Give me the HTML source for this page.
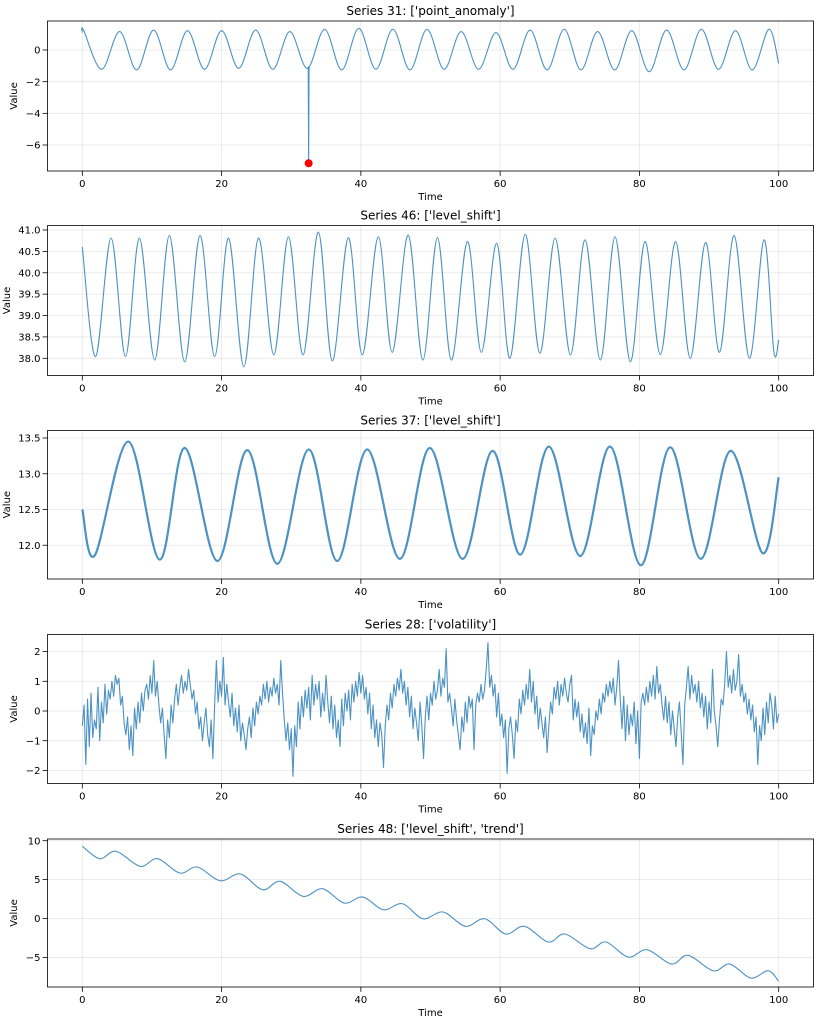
<!DOCTYPE html>
<html><head><meta charset="utf-8">
<style>
html,body{margin:0;padding:0;background:#fff;}
svg{display:block;font-family:"DejaVu Sans","Liberation Sans",sans-serif;}
</style></head>
<body>
<svg id="fig" width="819" height="1024" viewBox="0 0 819 1024" xmlns="http://www.w3.org/2000/svg"></svg>
<script>
// ---- Panel 1 data (Series 31) ----
const p1PeakTimes=[0.17,5.35,10.24,15.1,20.0,24.9,29.8,34.8,39.7,44.6,49.5,54.4,59.4,64.3,69.2,74.0,78.9,83.9,88.9,93.8,98.6];
const p1PeakValues=[1.26,1.16,1.26,1.22,1.22,1.26,1.16,1.31,1.37,1.31,1.31,1.16,1.10,1.26,1.31,1.16,1.22,1.26,1.31,1.22,1.31];
const p1TroughTimes=[2.76,7.8,12.67,17.55,22.45,27.35,32.3,37.25,42.15,47.05,51.95,56.9,61.85,66.75,71.6,76.45,81.4,86.4,91.35,96.2];
const p1TroughValues=[-1.22,-1.26,-1.26,-1.22,-1.16,-1.22,-1.16,-1.26,-1.22,-1.26,-1.22,-1.22,-1.22,-1.26,-1.26,-1.26,-1.37,-1.26,-1.22,-1.26];
const p1EndTimes=[0,100];
const p1EndValues=[1.1,-0.85];
const anomalyTimes=[32.5];
const anomalyValues=[-7.15];
const anomalyBase=[-1.05];
// ---- Panel 2 data (Series 46) ----
const p2PeakTimes=[4.13,8.2,12.5,16.9,21.0,25.3,29.6,33.9,38.2,42.5,46.8,51.0,55.3,59.5,63.6,67.9,72.2,76.5,80.8,85.2,89.5,93.6,97.9];
const p2PeakValues=[40.81,40.81,40.87,40.87,40.81,40.81,40.84,40.95,40.82,40.84,40.88,40.82,40.73,40.69,40.90,40.81,40.77,40.84,40.73,40.73,40.71,40.87,40.77];
const p2TroughTimes=[1.9,6.2,10.4,14.7,19.0,23.2,27.5,31.7,35.9,40.2,44.5,48.9,53.0,57.3,61.4,65.7,70.1,74.4,78.7,83.0,87.3,91.5,95.8,99.3];
const p2TroughValues=[38.04,38.04,37.96,37.92,38.04,37.80,38.08,38.08,37.94,38.08,38.14,37.96,37.96,38.14,38.0,38.12,38.08,37.96,37.92,38.09,38.0,38.14,38.0,38.16];
const p2EndTimes=[0,100];
const p2EndValues=[40.6,38.43];
// ---- Panel 3 data (Series 37) ----
const p3PeakTimes=[6.6,14.7,23.7,32.5,40.9,49.9,58.9,67.0,75.8,84.4,93.1];
const p3PeakValues=[13.45,13.36,13.33,13.34,13.34,13.36,13.32,13.38,13.38,13.37,13.32];
const p3TroughTimes=[1.8,11.1,19.4,28.0,36.6,45.6,54.6,62.9,71.5,80.2,88.8,97.7];
const p3TroughValues=[11.86,11.80,11.78,11.74,11.78,11.81,11.81,11.87,11.85,11.72,11.81,11.89];
const p3EndTimes=[0,100];
const p3EndValues=[12.5,12.95];
// ---- Panel 4 data (Series 28), sampled every 0.25 ----
const p4Values=[-0.5,0.2,-1.8,0.4,-1.2,0.6,-0.9,-0.3,-0.6,0.8,-1.0,0.3,-0.4,0.9,-0.1,0.7,0.4,1.0,0.5,1.2,0.9,1.1,0.2,0.5,-0.4,-0.8,-0.2,-1.3,-0.5,-1.5,0.1,-0.6,0.3,-0.4,0.6,0.0,0.7,0.9,0.4,1.2,0.6,1.7,0.5,1.0,0.2,-0.4,0.1,-0.8,-1.6,-0.3,-0.9,0.2,-0.4,0.4,0.9,0.2,0.8,1.2,0.6,1.0,0.7,1.4,0.9,0.4,0.7,-0.1,0.3,-0.6,-0.2,-1.0,-0.4,0.1,-0.8,-1.2,-0.3,-1.6,0.2,1.7,0.3,1.0,0.5,1.8,0.2,0.9,0.3,-0.2,0.6,-0.5,0.1,-0.7,0.2,-1.0,-0.4,-0.8,-1.3,-0.6,-0.2,-0.9,0.1,-0.5,0.3,-0.1,0.5,0.2,0.9,0.4,1.0,0.3,0.8,0.5,1.1,0.6,0.9,0.2,1.7,0.6,-0.3,-1.0,-0.4,-1.3,-0.6,-2.2,-0.5,-1.2,0.3,-0.6,0.5,-0.2,0.7,0.1,0.8,-0.3,1.2,0.2,0.9,0.4,1.0,-0.2,0.6,0.0,1.2,0.3,-0.4,0.5,-0.6,0.2,-0.9,-0.3,-1.2,0.4,-0.5,0.6,0.0,0.7,-0.3,0.9,0.3,1.0,0.5,1.3,0.6,1.2,0.4,0.8,-0.1,0.6,-0.6,0.2,-0.9,-0.3,-1.2,-0.4,-0.8,-1.9,-0.5,0.2,-0.3,0.6,0.1,0.9,0.5,1.1,0.7,1.4,0.6,1.0,0.2,0.8,-0.2,0.5,-0.6,0.1,-0.4,-1.0,0.3,-0.5,-1.6,-0.2,0.5,-0.3,0.6,0.2,1.0,0.4,0.7,1.4,0.5,1.1,0.8,2.1,0.3,0.6,0.1,-0.5,0.4,-0.3,-0.8,-1.3,-0.2,-0.7,0.3,-0.4,0.5,0.1,0.4,-1.3,0.2,0.6,0.3,0.9,0.4,0.7,1.4,2.3,0.8,1.2,0.5,0.9,-0.2,0.6,-0.5,-0.1,-0.9,-0.3,-2.1,-0.6,-0.2,-0.8,-1.6,-0.3,-0.7,0.4,-0.1,0.7,0.2,0.9,0.4,1.4,0.3,1.0,-0.1,0.5,-0.6,0.1,-0.4,-0.9,-0.2,-1.4,-0.5,0.3,-0.1,0.8,0.4,1.0,0.2,0.9,0.5,1.1,0.6,0.3,0.9,1.2,-0.3,0.4,-0.2,0.3,-0.7,-0.1,-0.9,-0.4,-1.1,0.1,-1.5,-0.5,-0.8,0.0,-0.3,0.4,-0.1,0.6,0.3,0.9,0.5,1.0,0.6,1.1,0.2,0.8,1.7,0.4,-0.6,0.5,-1.0,0.2,-0.8,-0.1,-0.5,0.3,-1.1,0.0,-1.6,0.3,0.6,0.2,0.8,0.3,1.0,0.5,1.2,0.4,1.5,0.6,0.9,0.2,-0.3,0.5,-0.4,0.3,-0.8,0.0,-0.6,-1.2,-0.2,0.3,-0.7,-1.8,0.2,0.8,1.5,0.4,1.2,0.6,0.9,0.3,1.0,0.1,0.6,-0.2,0.5,-0.6,0.3,-0.4,1.4,0.0,-0.5,-1.2,-0.3,0.4,0.2,0.9,2.0,0.8,1.2,0.6,1.4,0.7,1.0,1.9,0.5,0.9,0.3,0.6,-0.1,0.4,-0.3,0.2,-0.7,-0.2,-1.8,-0.5,-1.0,0.1,-0.8,0.3,-0.4,0.6,0.2,-0.6,0.5,-0.4,-0.1];
const p4Step=0.25;
// ---- Panel 5 data (Series 48) ----
const p5PeakTimes=[4.85,10.8,16.5,22.7,28.4,34.5,40.3,46.0,51.8,57.8,63.5,69.3,75.2,81.1,87.0,93.0,98.5];
const p5PeakValues=[8.64,7.69,6.62,5.72,4.78,3.83,2.76,1.90,0.84,-0.03,-1.0,-1.99,-3.02,-4.01,-4.73,-5.85,-6.71];
const p5TroughTimes=[2.5,8.3,14.0,19.8,25.9,31.7,37.6,43.2,48.9,55.0,60.8,66.9,72.9,78.4,84.6,90.6,96.0];
const p5TroughValues=[7.69,6.71,5.85,4.86,3.70,2.85,1.99,1.13,-0.03,-1.0,-1.99,-3.02,-3.88,-4.95,-5.85,-6.71,-7.65];
const p5EndTimes=[0,100];
const p5EndValues=[9.28,-8.07];
// ---- Axis tick labels ----
const xTicks=[0,20,40,60,80,100];
const p1YTicks=[0,-2,-4,-6];
const p2YTicks=[38.0,38.5,39.0,39.5,40.0,40.5,41.0];
const p3YTicks=[12.0,12.5,13.0,13.5];
const p4YTicks=[-2,-1,0,1,2];
const p5YTicks=[-5,0,5,10];
const titles=["Series 31: ['point_anomaly']","Series 46: ['level_shift']","Series 37: ['level_shift']","Series 28: ['volatility']","Series 48: ['level_shift', 'trend']"];

const NS="http://www.w3.org/2000/svg";
const svg=document.getElementById('fig');
function mk(tag,attrs,parent){const e=document.createElementNS(NS,tag);for(const k in attrs)e.setAttribute(k,attrs[k]);(parent||svg).appendChild(e);return e;}
const L=47.5,R=813.5,XMIN=-5,XMAX=105;
function xs(t){return L+(t-XMIN)/(XMAX-XMIN)*(R-L);}
function merge(a,b,c,d,e,f){const pts=[];a.forEach((t,i)=>pts.push([t,b[i]]));c.forEach((t,i)=>pts.push([t,d[i]]));e.forEach((t,i)=>pts.push([t,f[i]]));pts.sort((p,q)=>p[0]-q[0]);return pts;}
function smoothPath(pts){let d='M'+pts[0][0].toFixed(2)+','+pts[0][1].toFixed(2);for(let i=0;i<pts.length-1;i++){const p0=pts[Math.max(0,i-1)],p1=pts[i],p2=pts[i+1],p3=pts[Math.min(pts.length-1,i+2)];const c1x=p1[0]+(p2[0]-p0[0])/6,c1y=p1[1]+(p2[1]-p0[1])/6,c2x=p2[0]-(p3[0]-p1[0])/6,c2y=p2[1]-(p3[1]-p1[1])/6;d+=' C'+c1x.toFixed(2)+','+c1y.toFixed(2)+' '+c2x.toFixed(2)+','+c2y.toFixed(2)+' '+p2[0].toFixed(2)+','+p2[1].toFixed(2);}return d;}
function linePath(pts){return pts.map((p,i)=>(i?'L':'M')+p[0].toFixed(2)+','+p[1].toFixed(2)).join(' ');}

const panels=[
 {top:21,bottom:171,ymin:-7.64,ymax:1.83,ticks:p1YTicks,dec:0,lx:17},
 {top:225.5,bottom:375.5,ymin:37.598,ymax:41.105,ticks:p2YTicks,dec:1,lx:10},
 {top:430.5,bottom:579,ymin:11.528,ymax:13.605,ticks:p3YTicks,dec:1,lx:10},
 {top:634.5,bottom:783.5,ymin:-2.441,ymax:2.576,ticks:p4YTicks,dec:0,lx:17},
 {top:839,bottom:987,ymin:-8.80,ymax:10.22,ticks:p5YTicks,dec:0,lx:17}
];
panels.forEach((P,pi)=>{
 const g=mk('g',{});
 
 
 const ys=v=>P.bottom-(v-P.ymin)/(P.ymax-P.ymin)*(P.bottom-P.top);
 P.ys=ys;P.g=g;
 xTicks.forEach(t=>{const l=mk('line',{x1:xs(t),x2:xs(t),y1:P.top,y2:P.bottom,stroke:'#b0b0b0','stroke-opacity':0.3,'stroke-width':0.8},g);
  });
 P.ticks.forEach(v=>{const l=mk('line',{x1:L,x2:R,y1:ys(v),y2:ys(v),stroke:'#b0b0b0','stroke-opacity':0.3,'stroke-width':0.8},g);
  });
 xTicks.forEach(t=>{mk('line',{x1:xs(t),x2:xs(t),y1:P.bottom,y2:P.bottom+4.9,stroke:'#000','stroke-width':0.8},g);
  const tx=mk('text',{x:xs(t),y:P.bottom+16,'text-anchor':'middle','font-size':10,fill:'#000'},g);tx.textContent=t;
  });
 P.ticks.forEach(v=>{mk('line',{x1:L-4.9,x2:L,y1:ys(v),y2:ys(v),stroke:'#000','stroke-width':0.8},g);
  const tx=mk('text',{x:L-7,y:ys(v)+3.6,'text-anchor':'end','font-size':10,fill:'#000'},g);tx.textContent=(v<0?'\u2212':'')+Math.abs(v).toFixed(P.dec);
  });
 const tt=mk('text',{x:(L+R)/2,y:P.top-6,'text-anchor':'middle','font-size':12,fill:'#000'},g);tt.textContent=titles[pi];
 
 const xl=mk('text',{x:(L+R)/2,y:P.bottom+29,'text-anchor':'middle','font-size':10,fill:'#000'},g);xl.textContent='Time';
 
 const cy=(P.top+P.bottom)/2;
 const yl=mk('text',{x:0,y:0,transform:'translate('+P.lx+','+cy+') rotate(-90)','text-anchor':'middle','font-size':10,fill:'#000'},g);yl.textContent='Value';
 
});
function drawSeries(pi,pts,smooth){const P=panels[pi];const px=pts.map(p=>[xs(p[0]),P.ys(p[1])]);
 const path=mk('path',{d:smooth?smoothPath(px):linePath(px),fill:'none',stroke:'#1f77b4','stroke-opacity':0.8,'stroke-width':1.1,'stroke-linejoin':'round'},P.g);
 return path;}
drawSeries(0,merge(p1PeakTimes,p1PeakValues,p1TroughTimes,p1TroughValues,p1EndTimes,p1EndValues),true);
anomalyTimes.forEach((t,i)=>{
 const sp=drawSeries(0,[[t-0.06,anomalyBase[i]],[t,anomalyValues[i]],[t+0.06,anomalyBase[i]]],false);
 
 const dot=mk('circle',{cx:xs(t),cy:panels[0].ys(anomalyValues[i]),r:4,fill:'#ff0000'},panels[0].g);
 
});
drawSeries(1,merge(p2PeakTimes,p2PeakValues,p2TroughTimes,p2TroughValues,p2EndTimes,p2EndValues),true);
const s3=drawSeries(2,merge(p3PeakTimes,p3PeakValues,p3TroughTimes,p3TroughValues,p3EndTimes,p3EndValues),true);
s3.setAttribute('stroke-width',2.2);
drawSeries(3,p4Values.map((v,i)=>[i*p4Step,v]),false);
drawSeries(4,merge(p5PeakTimes,p5PeakValues,p5TroughTimes,p5TroughValues,p5EndTimes,p5EndValues),true);
panels.forEach(P=>{const r=mk('rect',{x:L,y:P.top,width:R-L,height:P.bottom-P.top,fill:'none',stroke:'#000','stroke-width':0.8},P.g);
 });
</script>
</body></html>
